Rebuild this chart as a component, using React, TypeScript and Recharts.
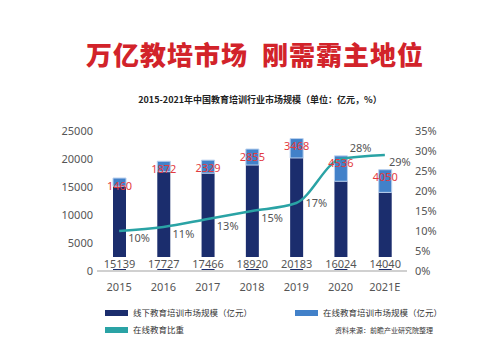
import {
  Bar,
  ComposedChart,
  LabelList,
  Line,
  XAxis,
  YAxis,
} from "recharts";

const years = ["2015", "2016", "2017", "2018", "2019", "2020", "2021E"];
const offline = [15139, 17727, 17466, 18920, 20183, 16024, 14040];
const online = [1460, 1872, 2329, 2855, 3468, 4536, 4050];
const onlineShare = [10, 11, 13, 15, 17, 28, 29];
const leftTicks = [0, 5000, 10000, 15000, 20000, 25000];
const rightTicks = [0, 5, 10, 15, 20, 25, 30, 35];

const NAVY = "#1b2d6d";
const BLUE = "#4281c9";
const TEAL = "#2aa3a5";
const RED = "#e23b3f";
const FONT = "'Noto Sans', 'Noto Sans CJK SC', sans-serif";

const data = years.map((year, i) => ({
  year,
  offline: offline[i],
  online: online[i],
  share: onlineShare[i],
}));

/** Offline value sits at the bar foot on a white patch that cuts the bar. */
// eslint-disable-next-line @typescript-eslint/no-explicit-any
function OfflineLabel({ x, y, width, height, value }: any) {
  const bottom = y + height;
  const cx = x + width / 2;
  return (
    <g>
      <rect x={x - 2} y={bottom - 14} width={width + 4} height={12} fill="#fff" />
      <text
        x={cx}
        y={bottom - 8}
        textAnchor="middle"
        dominantBaseline="central"
        fill="#555"
        fontSize={11}
        fontFamily={FONT}
      >
        {value}
      </text>
    </g>
  );
}

// eslint-disable-next-line @typescript-eslint/no-explicit-any
function OnlineLabel({ x, y, width, value }: any) {
  return (
    <text
      x={x + width / 2}
      y={y + 7}
      textAnchor="middle"
      dominantBaseline="central"
      fill={RED}
      fontSize={11}
      fontFamily={FONT}
    >
      {value}
    </text>
  );
}

// eslint-disable-next-line @typescript-eslint/no-explicit-any
function ShareLabel({ x, y, value, index }: any) {
  const up = index === 5;
  return (
    <text
      x={x + (index === 6 ? 15 : 20)}
      y={y + (up ? -12 : index === 4 ? -1 : 6)}
      textAnchor="middle"
      dominantBaseline="central"
      fill="#555"
      fontSize={11}
      fontFamily={FONT}
    >
      {value}%
    </text>
  );
}

function Swatch({ color }: { color: string }) {
  return (
    <span
      style={{
        display: "inline-block",
        width: 23,
        height: 6,
        background: color,
        marginRight: 5,
      }}
    />
  );
}

export default function App() {
  return (
    <div
      style={{
        position: "fixed",
        left: 0,
        top: 0,
        width: 500,
        height: 360,
        background: "#fff",
        fontFamily: FONT,
        overflow: "hidden",
      }}
    >
      <div
        style={{
          position: "absolute",
          top: 35,
          width: 510,
          textAlign: "center",
          color: "#d2232a",
          fontSize: 26,
          fontWeight: 900,
          fontFamily: "'Noto Sans CJK SC', sans-serif",
          letterSpacing: 1,
          whiteSpace: "pre",
        }}
      >
        {"万亿教培市场  刚需霸主地位"}
      </div>
      <div
        style={{
          position: "absolute",
          top: 93,
          left: 20,
          width: 480,
          textAlign: "center",
          color: "#222",
          fontSize: 9,
          fontWeight: 700,
          fontFamily: "'Noto Sans CJK SC', sans-serif",
        }}
      >
        2015-2021年中国教育培训行业市场规模（单位：亿元，%）
      </div>
      <div style={{ position: "absolute", left: 0, top: 0 }}>
        <ComposedChart
          width={500}
          height={360}
          data={data}
          margin={{ top: 131, right: 0, bottom: 64, left: 0 }}
          barCategoryGap="35%"
        >
          <XAxis
            dataKey="year"
            axisLine={{ stroke: "#d0d0d0", strokeWidth: 2 }}
            tickLine={false}
            tickSize={0}
            tickMargin={12}
            height={25}
            tick={{ fill: "#555", fontSize: 11, fontFamily: FONT }}
          />
          <YAxis
            yAxisId="left"
            width={97}
            domain={[0, 25000]}
            ticks={leftTicks}
            axisLine={false}
            tickLine={false}
            tickSize={0}
            tickMargin={4}
            tick={{ fill: "#555", fontSize: 11, fontFamily: FONT }}
          />
          <YAxis
            yAxisId="right"
            orientation="right"
            width={93}
            domain={[0, 35]}
            ticks={rightTicks}
            tickFormatter={(v) => `${v}%`}
            axisLine={false}
            tickLine={false}
            tickSize={0}
            tickMargin={8}
            tick={{ fill: "#555", fontSize: 11, fontFamily: FONT, textAnchor: "start" }}
          />
          <Bar
            yAxisId="left"
            dataKey="offline"
            stackId="a"
            fill={NAVY}
            barSize={13}
            isAnimationActive={false}
          >
            <LabelList dataKey="offline" content={<OfflineLabel />} />
          </Bar>
          <Bar
            yAxisId="left"
            dataKey="online"
            stackId="a"
            fill={BLUE}
            stroke="#b9d0ee"
            strokeWidth={1}
            barSize={13}
            isAnimationActive={false}
          >
            <LabelList dataKey="online" content={<OnlineLabel />} />
          </Bar>
          <Line
            yAxisId="right"
            type="monotone"
            dataKey="share"
            stroke={TEAL}
            strokeWidth={2.5}
            dot={false}
            activeDot={false}
            isAnimationActive={false}
          >
            <LabelList dataKey="share" content={<ShareLabel />} />
          </Line>
        </ComposedChart>
      </div>
      <div
        style={{
          position: "absolute",
          left: 105,
          top: 306,
          fontSize: 8.5,
          color: "#333",
          lineHeight: "14px",
        }}
      >
        <div style={{ display: "flex", alignItems: "center" }}>
          <Swatch color={NAVY} />
          线下教育培训市场规模（亿元）
        </div>
        <div style={{ display: "flex", alignItems: "center", marginTop: 3 }}>
          <Swatch color={TEAL} />
          在线教育比重
        </div>
      </div>
      <div
        style={{
          position: "absolute",
          left: 295,
          top: 306,
          fontSize: 8.5,
          color: "#333",
          lineHeight: "14px",
          display: "flex",
          alignItems: "center",
        }}
      >
        <Swatch color={BLUE} />
        在线教育培训市场规模（亿元）
      </div>
      <div
        style={{
          position: "absolute",
          left: 335,
          top: 325,
          fontSize: 7,
          color: "#333",
          lineHeight: "12px",
        }}
      >
        资料来源：前瞻产业研究院整理
      </div>
    </div>
  );
}
